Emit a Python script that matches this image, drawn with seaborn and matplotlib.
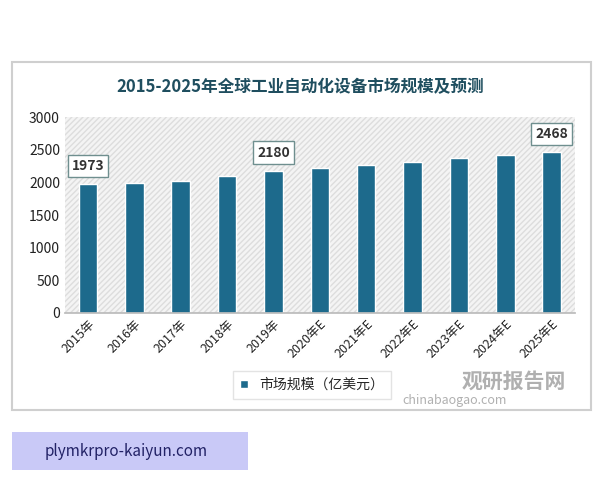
import numpy as np
import pandas as pd
import seaborn as sns
import matplotlib.pyplot as plt
from matplotlib.patches import Rectangle

years = ["2015年", "2016年", "2017年", "2018年", "2019年", "2020年E", "2021年E",
         "2022年E", "2023年E", "2024年E", "2025年E"]
values = [1973, 1995, 2020, 2100, 2180, 2214, 2260, 2310, 2370, 2418, 2468]
labeled = {0: "1973", 4: "2180", 10: "2468"}

sns.set_theme(style="white")
plt.rcParams['font.family'] = ['Noto Sans CJK SC', 'DejaVu Sans']
plt.rcParams['hatch.color'] = '#d9d9d9'

fig = plt.figure(figsize=(6, 4.8), dpi=100)
fig.patch.set_facecolor('white')
# outer frame
fig.add_artist(Rectangle((0.02, 0.145), 0.965, 0.725, transform=fig.transFigure,
                         fill=False, ec='#cfcfcf', lw=1.5))

ax = fig.add_axes([0.108, 0.348, 0.85, 0.408])
ax.add_patch(Rectangle((0, 0), 1, 1, transform=ax.transAxes, fc='#f4f4f4',
                       hatch='//////', ec='#dddddd', lw=0, zorder=0))
df = pd.DataFrame({"year": years, "value": values})
sns.barplot(data=df, x="year", y="value", color='#1d6a8c', saturation=1,
            width=0.4, ax=ax, zorder=2, label="市场规模（亿美元）")
handles, labels = ax.get_legend_handles_labels()
if ax.get_legend() is not None:
    ax.get_legend().remove()
ax.set_ylim(0, 3000)
ax.set_yticks(range(0, 3001, 500))
ax.set_xlabel("")
ax.set_ylabel("")
for s in ["top", "right", "left"]:
    ax.spines[s].set_visible(False)
ax.spines["bottom"].set_color('#bbbbbb')
ax.tick_params(axis='y', labelsize=10, colors='#222222', length=0)
ax.tick_params(axis='x', labelsize=9, colors='#222222', length=0)
plt.setp(ax.get_xticklabels(), rotation=45, ha='right', rotation_mode='anchor')

for i, t in labeled.items():
    ax.annotate(t, (i, values[i]), xytext=(0, 8), textcoords='offset points',
                ha='center', va='bottom', fontsize=10, fontweight='bold', color='#333333',
                bbox=dict(boxstyle='square,pad=0.3', fc='white', ec='#6f8f8f', lw=1))

fig.text(0.5, 0.819, "2015-2025年全球工业自动化设备市场规模及预测", ha='center', va='center',
         fontsize=12, fontweight='bold', color='#1f4e5f')

leg = fig.legend(handles, labels, loc='center',
                 bbox_to_anchor=(0.52, 0.198), frameon=True,
                 fontsize=10, handlelength=0.6, handleheight=0.6, fancybox=False,
                 borderpad=0.5)
leg.get_frame().set_edgecolor('#dddddd')
leg.get_frame().set_linewidth(1)

fig.text(0.77, 0.205, "观研报告网", fontsize=15, fontweight='bold', color='#b0b0b0', va='center')
fig.text(0.67, 0.165, "chinabaogao.com", fontsize=9, color='#b0b0b0', va='center')

fig.add_artist(Rectangle((0.02, 0.021), 0.393, 0.079, transform=fig.transFigure,
                         fc='#c9c9f7', ec='none'))
fig.text(0.075, 0.06, "plymkrpro-kaiyun.com", fontsize=11, color='#222266', va='center')

fig.savefig("out.png", dpi=100)
